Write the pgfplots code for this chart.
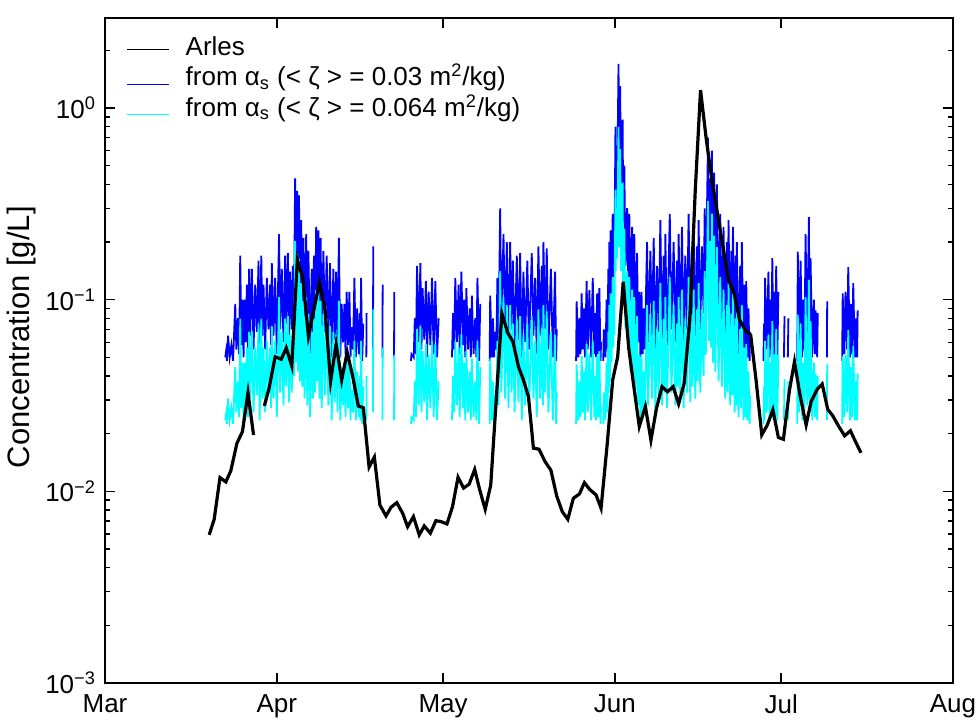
\documentclass[border=0pt]{standalone}
\usepackage{fontspec}
\setmainfont{Liberation Sans}
\usepackage{pgfplots}
\pgfplotsset{compat=1.18}
\usepackage{pgfplotstable}
\definecolor{mblue}{RGB}{0,0,255}
\definecolor{mcyan}{RGB}{0,255,255}

% Arles daily concentration (x = days since 1 March)
\pgfplotstableread[row sep=\\]{
t v\\
18.8 0.00593\\ 19.7 0.00715\\ 20.75 0.0118\\ 21.8 0.0112\\ 22.7 0.0128\\
23.8 0.0178\\ 24.8 0.0205\\ 25.8 0.0327\\ 26.8 0.0197\\
nan nan\\
28.75 0.0279\\ 29.6 0.0345\\ 30.7 0.0504\\ 31.8 0.0489\\ 32.7 0.056\\
33.7 0.0451\\ 34.7 0.162\\ 35.7 0.129\\ 36.7 0.0646\\ 37.7 0.0891\\
38.7 0.123\\ 39.7 0.0891\\ 40.7 0.0374\\ 41.7 0.0587\\ 42.7 0.0381\\
43.7 0.0532\\ 44.7 0.0397\\ 45.7 0.0279\\ 46.6 0.0273\\ 47.65 0.0134\\
48.6 0.0151\\ 49.6 0.00849\\ 50.7 0.00744\\ 51.6 0.00826\\ 52.65 0.00873\\
53.7 0.00769\\ 54.6 0.00654\\ 55.65 0.00738\\ 56.7 0.00593\\ 57.6 0.0066\\
58.7 0.00605\\ 59.7 0.00703\\ 60.65 0.00695\\ 61.7 0.00676\\ 62.7 0.00832\\
63.7 0.01185\\ 64.7 0.0104\\ 65.7 0.0109\\ 66.7 0.0130\\ 67.6 0.0102\\
68.6 0.00806\\ 69.6 0.0108\\ 70.6 0.0305\\ 71.6 0.0849\\ 72.7 0.0668\\
73.6 0.0604\\ 74.6 0.0447\\ 75.5 0.0381\\ 76.4 0.0312\\ 77.3 0.0168\\
78.3 0.0166\\ 79.4 0.0143\\ 80.45 0.0129\\ 81.5 0.00946\\ 82.5 0.00784\\
83.5 0.00715\\ 84.5 0.0092\\ 85.6 0.00969\\ 86.5 0.0111\\ 87.5 0.0102\\
88.6 0.00958\\ 89.5 0.00816\\ 90.6 0.0175\\ 91.6 0.0381\\ 92.5 0.0504\\
93.5 0.124\\ 94.5 0.0558\\ 95.5 0.0338\\ 96.4 0.0218\\ 97.5 0.0277\\
98.5 0.0185\\ 99.5 0.0271\\ 100.5 0.0352\\ 101.5 0.0331\\ 102.5 0.0352\\
103.5 0.0286\\ 104.5 0.0366\\ 105.5 0.0783\\ 106.5 0.373\\ 107.45 1.24\\
108.5 0.681\\ 109.5 0.421\\ 110.5 0.282\\ 111.5 0.189\\ 112.5 0.127\\
113.5 0.108\\ 114.5 0.0783\\ 115.5 0.0695\\ 116.5 0.0654\\ 117.5 0.0374\\
118.5 0.0197\\ 119.5 0.0222\\ 120.5 0.0266\\ 121.5 0.0191\\ 122.4 0.0187\\
123.5 0.0338\\ 124.4 0.0475\\ 125.45 0.0312\\ 126.5 0.0222\\ 127.4 0.0294\\
128.5 0.0341\\ 129.4 0.0363\\ 130.4 0.0268\\ 131.3 0.0248\\ 132.4 0.0218\\
133.45 0.0195\\ 134.5 0.0207\\ 135.4 0.0182\\ 136.4 0.0159\\
}\arles

% retrieved concentrations: b for <zeta>=0.03, c for <zeta>=0.064 m2/kg
\pgfplotstableread[row sep=\\]{
t b c\\
21.7 0.050 0.0235\\ 21.85 0.054 0.0253\\ 22.0 0.048 0.0225\\ 22.2 0.065 0.0305\\
22.5 0.050 0.0235\\ 22.8 0.058 0.0272\\ 23.1 0.048 0.0225\\ 23.5 0.095 0.0446\\
23.7 0.055 0.0258\\ 24.0 0.080 0.0375\\ 24.2 0.052 0.0244\\ 24.4 0.170 0.0797\\
24.6 0.058 0.0272\\ 24.8 0.100 0.0469\\ 25.0 0.050 0.0235\\ 25.2 0.100 0.0469\\
25.4 0.060 0.0281\\ 25.6 0.120 0.0563\\ 25.8 0.052 0.0244\\ 26.0 0.145 0.0680\\
26.2 0.065 0.0305\\ 26.5 0.145 0.0680\\ 26.8 0.055 0.0258\\ 27.1 0.120 0.0563\\
27.4 0.068 0.0319\\ 27.7 0.160 0.0750\\ 27.9 0.050 0.0235\\ 28.2 0.170 0.0797\\
28.4 0.065 0.0305\\ 28.6 0.120 0.0563\\ 28.9 0.055 0.0258\\ 29.2 0.130 0.0610\\
29.5 0.070 0.0328\\ 29.8 0.120 0.0563\\ 29.95 0.058 0.0272\\ 30.1 0.155 0.0727\\
30.4 0.065 0.0305\\ 30.7 0.130 0.0610\\ 31.0 0.052 0.0244\\ 31.4 0.220 0.1030\\
31.6 0.070 0.0328\\ 31.9 0.145 0.0680\\ 32.2 0.060 0.0281\\ 32.5 0.170 0.0797\\
32.7 0.075 0.0352\\ 33.0 0.175 0.0821\\ 33.2 0.062 0.0291\\ 33.4 0.140 0.0657\\
33.7 0.070 0.0328\\ 33.9 0.150 0.0704\\ 34.1 0.085 0.0399\\ 34.3 0.430 0.2020\\
34.5 0.100 0.0469\\ 34.7 0.370 0.1740\\ 34.85 0.090 0.0422\\ 35.0 0.350 0.1640\\
35.2 0.080 0.0375\\ 35.4 0.260 0.1220\\ 35.6 0.075 0.0352\\ 35.8 0.210 0.0985\\
36.0 0.065 0.0305\\ 36.3 0.220 0.1030\\ 36.5 0.060 0.0281\\ 36.7 0.180 0.0844\\
37.0 0.052 0.0244\\ 37.3 0.145 0.0680\\ 37.5 0.065 0.0305\\ 37.7 0.170 0.0797\\
37.9 0.070 0.0328\\ 38.1 0.240 0.1130\\ 38.3 0.080 0.0375\\ 38.5 0.230 0.1080\\
38.7 0.065 0.0305\\ 38.9 0.210 0.0985\\ 39.1 0.058 0.0272\\ 39.4 0.180 0.0844\\
39.7 0.068 0.0319\\ 40.0 0.170 0.0797\\ 40.3 0.060 0.0281\\ 40.6 0.155 0.0727\\
40.9 0.050 0.0235\\ 41.2 0.145 0.0680\\ 41.45 0.062 0.0291\\ 41.7 0.140 0.0657\\
41.95 0.055 0.0258\\ 42.2 0.210 0.0985\\ 42.45 0.050 0.0235\\ 42.7 0.095 0.0446\\
42.95 0.060 0.0281\\ 43.2 0.095 0.0446\\ 43.4 0.052 0.0244\\ 43.6 0.110 0.0516\\
43.85 0.058 0.0272\\ 44.1 0.110 0.0516\\ 44.3 0.050 0.0235\\ 44.5 0.072 0.0338\\
44.75 0.055 0.0258\\ 45.0 0.130 0.0610\\ 45.25 0.050 0.0235\\ 45.5 0.090 0.0422\\
45.8 0.052 0.0244\\ 46.0 0.085 0.0399\\ 46.1 0.050 0.0235\\ 46.2 0.130 0.0610\\
46.4 0.048 0.0225\\ 46.6 0.075 0.0352\\
nan nan nan\\
47.15 0.050 0.0235\\ 47.2 0.085 0.0399\\ nan nan nan\\
48.35 0.055 0.0258\\ 48.4 0.190 0.0891\\ nan nan nan\\
50.05 0.050 0.0235\\ 50.1 0.120 0.0563\\ nan nan nan\\
52.15 0.050 0.0235\\ 52.2 0.110 0.0516\\ nan nan nan\\
55.2 0.048 0.0225\\ 55.3 0.052 0.0244\\ 55.7 0.050 0.0235\\ 55.9 0.080 0.0375\\
56.1 0.052 0.0244\\ 56.3 0.150 0.0704\\ 56.6 0.060 0.0281\\ 56.9 0.155 0.0727\\
57.1 0.055 0.0258\\ 57.3 0.115 0.0539\\ 57.6 0.062 0.0291\\ 57.9 0.125 0.0586\\
58.1 0.050 0.0235\\ 58.4 0.110 0.0516\\ 58.7 0.058 0.0272\\ 59.0 0.130 0.0610\\
59.3 0.052 0.0244\\ 59.6 0.125 0.0586\\ 59.9 0.050 0.0235\\ 60.2 0.080 0.0375\\
nan nan nan\\
62.6 0.050 0.0235\\ 62.8 0.085 0.0399\\ 63.0 0.055 0.0258\\ 63.2 0.130 0.0610\\
63.5 0.060 0.0281\\ 63.8 0.120 0.0563\\ 64.0 0.052 0.0244\\ 64.3 0.140 0.0657\\
64.6 0.058 0.0272\\ 64.8 0.100 0.0469\\ 65.0 0.050 0.0235\\ 65.2 0.115 0.0539\\
65.5 0.055 0.0258\\ 65.8 0.090 0.0422\\ 66.0 0.050 0.0235\\ 66.2 0.105 0.0492\\
66.5 0.052 0.0244\\ 66.8 0.080 0.0375\\ 67.0 0.050 0.0235\\ 67.2 0.130 0.0610\\
67.5 0.048 0.0225\\ 67.7 0.095 0.0446\\
nan nan nan\\
69.4 0.048 0.0225\\ 69.5 0.105 0.0492\\ 69.8 0.050 0.0235\\ 70.0 0.080 0.0375\\
70.2 0.050 0.0235\\ 70.3 0.068 0.0319\\ 70.6 0.055 0.0258\\ 70.8 0.130 0.0610\\
71.0 0.060 0.0281\\ 71.3 0.300 0.1410\\ 71.5 0.070 0.0328\\ 71.9 0.220 0.1030\\
72.2 0.065 0.0305\\ 72.5 0.200 0.0938\\ 72.8 0.058 0.0272\\ 73.1 0.200 0.0938\\
73.35 0.070 0.0328\\ 73.6 0.160 0.0750\\ 73.9 0.055 0.0258\\ 74.3 0.170 0.0797\\
74.6 0.062 0.0291\\ 74.9 0.175 0.0821\\ 75.2 0.050 0.0235\\ 75.5 0.140 0.0657\\
75.8 0.060 0.0281\\ 76.2 0.160 0.0750\\ 76.5 0.055 0.0258\\ 77.0 0.175 0.0821\\
77.3 0.065 0.0305\\ 77.6 0.130 0.0610\\ 77.9 0.052 0.0244\\ 78.2 0.190 0.0891\\
78.5 0.065 0.0305\\ 78.8 0.150 0.0704\\ 79.0 0.060 0.0281\\ 79.1 0.200 0.0938\\
79.4 0.070 0.0328\\ 79.7 0.185 0.0868\\ 80.0 0.055 0.0258\\ 80.45 0.145 0.0680\\
80.8 0.050 0.0235\\ 81.2 0.140 0.0657\\ 81.4 0.048 0.0225\\ 81.5 0.070 0.0328\\
nan nan nan\\
85.0 0.048 0.0225\\ 85.1 0.098 0.0460\\ 85.4 0.050 0.0235\\ 85.6 0.080 0.0375\\
85.8 0.052 0.0244\\ 86.0 0.108 0.0507\\ 86.2 0.055 0.0258\\ 86.4 0.090 0.0422\\
86.6 0.050 0.0235\\ 86.9 0.125 0.0586\\ 87.1 0.055 0.0258\\ 87.4 0.112 0.0525\\
87.7 0.050 0.0235\\ 88.0 0.130 0.0610\\ 88.3 0.052 0.0244\\ 88.5 0.085 0.0399\\
88.6 0.050 0.0235\\ 88.8 0.108 0.0507\\ 89.0 0.052 0.0244\\ 89.2 0.115 0.0539\\
89.4 0.048 0.0225\\ 89.5 0.060 0.0281\\
nan nan nan\\
89.9 0.048 0.0225\\ 90.0 0.070 0.0328\\ 90.3 0.050 0.0235\\ 90.5 0.100 0.0469\\
90.7 0.055 0.0258\\ 90.8 0.145 0.0680\\ 90.9 0.070 0.0328\\ 91.0 0.200 0.0938\\
91.1 0.080 0.0375\\ 91.2 0.230 0.1080\\ 91.4 0.100 0.0469\\ 91.6 0.280 0.1310\\
91.7 0.120 0.0563\\ 91.75 0.175 0.0821\\ 91.9 0.140 0.0657\\ 92.1 0.800 0.3750\\
92.15 0.300 0.1410\\ 92.2 0.500 0.2350\\ 92.4 0.350 0.1640\\ 92.65 1.700 0.7970\\
92.8 0.400 0.1880\\ 92.95 1.300 0.6100\\ 93.1 0.300 0.1410\\ 93.4 0.870 0.4080\\
93.5 0.200 0.0938\\ 93.7 0.500 0.2350\\ 93.9 0.150 0.0704\\ 94.2 0.300 0.1410\\
94.4 0.120 0.0563\\ 94.6 0.280 0.1310\\ 94.8 0.090 0.0422\\ 95.1 0.240 0.1130\\
95.3 0.080 0.0375\\ 95.5 0.220 0.1030\\ 95.7 0.065 0.0305\\ 96.0 0.175 0.0821\\
96.2 0.060 0.0281\\ 96.4 0.110 0.0516\\ 96.6 0.050 0.0235\\ 96.8 0.110 0.0516\\
97.0 0.052 0.0244\\ 97.2 0.090 0.0422\\ 97.4 0.055 0.0258\\ 97.8 0.200 0.0938\\
98.0 0.060 0.0281\\ 98.4 0.180 0.0844\\ 98.7 0.065 0.0305\\ 99.0 0.210 0.0985\\
99.3 0.055 0.0258\\ 99.6 0.150 0.0704\\ 99.9 0.068 0.0319\\ 100.2 0.260 0.1220\\
100.5 0.060 0.0281\\ 100.8 0.170 0.0797\\ 100.95 0.070 0.0328\\ 101.1 0.220 0.1030\\
101.4 0.058 0.0272\\ 101.9 0.280 0.1310\\ 102.2 0.070 0.0328\\ 102.6 0.200 0.0938\\
102.9 0.060 0.0281\\ 103.2 0.160 0.0750\\ 103.35 0.075 0.0352\\ 103.5 0.220 0.1030\\
103.8 0.065 0.0305\\ 104.1 0.240 0.1130\\ 104.4 0.058 0.0272\\ 104.7 0.170 0.0797\\
105.0 0.070 0.0328\\ 105.3 0.280 0.1310\\ 105.6 0.062 0.0291\\ 105.9 0.180 0.0844\\
106.0 0.075 0.0352\\ 106.2 0.240 0.1130\\ 106.5 0.065 0.0305\\ 106.8 0.190 0.0891\\
106.95 0.080 0.0375\\ 107.1 0.260 0.1220\\ 107.4 0.070 0.0328\\ 107.7 0.190 0.0891\\
108.0 0.085 0.0399\\ 108.2 0.300 0.1410\\ 108.4 0.110 0.0516\\ 108.8 0.700 0.3280\\
109.0 0.130 0.0610\\ 109.2 0.430 0.2020\\ 109.35 0.120 0.0563\\ 109.5 0.600 0.2810\\
109.7 0.100 0.0469\\ 109.9 0.460 0.2160\\ 110.1 0.090 0.0422\\ 110.4 0.400 0.1880\\
110.7 0.080 0.0375\\ 111.0 0.280 0.1310\\ 111.3 0.075 0.0352\\ 111.6 0.240 0.1130\\
111.9 0.065 0.0305\\ 112.2 0.200 0.0938\\ 112.35 0.070 0.0328\\ 112.5 0.260 0.1220\\
112.8 0.060 0.0281\\ 113.0 0.180 0.0844\\ 113.15 0.068 0.0319\\ 113.3 0.240 0.1130\\
113.6 0.055 0.0258\\ 113.8 0.170 0.0797\\ 113.9 0.060 0.0281\\ 114.0 0.200 0.0938\\
114.3 0.052 0.0244\\ 114.6 0.150 0.0704\\ 114.75 0.058 0.0272\\ 114.9 0.200 0.0938\\
115.2 0.050 0.0235\\ 115.4 0.120 0.0563\\ 115.55 0.052 0.0244\\ 115.7 0.125 0.0586\\
115.9 0.050 0.0235\\ 116.1 0.090 0.0422\\ 116.3 0.048 0.0225\\ 116.4 0.068 0.0319\\
nan nan nan\\
118.8 0.048 0.0225\\ 118.9 0.075 0.0352\\ 119.0 0.050 0.0235\\ 119.1 0.130 0.0610\\
119.4 0.055 0.0258\\ 119.7 0.140 0.0657\\ 119.9 0.050 0.0235\\ 120.1 0.100 0.0469\\
120.2 0.055 0.0258\\ 120.4 0.165 0.0774\\ 120.6 0.050 0.0235\\ 120.8 0.110 0.0516\\
120.9 0.052 0.0244\\ 121.1 0.150 0.0704\\ 121.3 0.050 0.0235\\ 121.5 0.110 0.0516\\
nan nan nan\\
122.5 0.050 0.0235\\ 122.6 0.082 0.0385\\ nan nan nan\\
123.2 0.050 0.0235\\ 123.3 0.080 0.0375\\ nan nan nan\\
124.9 0.048 0.0225\\ 125.0 0.178 0.0835\\ 125.2 0.055 0.0258\\ 125.5 0.160 0.0750\\
125.8 0.050 0.0235\\ 126.0 0.100 0.0469\\ 126.2 0.055 0.0258\\ 126.4 0.220 0.1030\\
126.7 0.060 0.0281\\ 127.0 0.270 0.1270\\ 127.15 0.055 0.0258\\ 127.3 0.165 0.0774\\
127.6 0.050 0.0235\\ 127.9 0.100 0.0469\\ 128.1 0.052 0.0244\\ 128.2 0.088 0.0413\\
128.5 0.050 0.0235\\ 128.6 0.085 0.0399\\
nan nan nan\\
130.25 0.050 0.0235\\ 130.3 0.098 0.0460\\ nan nan nan\\
133.0 0.048 0.0225\\ 133.1 0.108 0.0507\\ 133.4 0.052 0.0244\\ 133.6 0.110 0.0516\\
133.9 0.055 0.0258\\ 134.1 0.148 0.0694\\ 134.4 0.050 0.0235\\ 134.6 0.095 0.0446\\
134.8 0.052 0.0244\\ 135.0 0.122 0.0572\\ 135.3 0.050 0.0235\\ 135.5 0.080 0.0375\\
135.7 0.050 0.0235\\ 135.8 0.088 0.0413\\
}\spikes

\begin{document}
\begin{tikzpicture}
\useasboundingbox (-52.5pt,-18.5pt) rectangle (435.5pt,341.5pt);
\begin{axis}[
  at={(0pt,0pt)}, anchor=south west,
  scale only axis, width=424pt, height=332.5pt,
  ymode=log,
  xmin=0, xmax=153, ymin=1e-3, ymax=2.95,
  xtick={0,31,61,92,122,153},
  xticklabels={Mar,Apr,May,Jun,Jul,Aug},
  ytick={0.001,0.01,0.1,1},
  yticklabels={10\textsuperscript{−3},10\textsuperscript{−2},10\textsuperscript{−1},10\textsuperscript{0}},
  minor ytick={0.002,0.003,0.004,0.005,0.006,0.007,0.008,0.009,
               0.02,0.03,0.04,0.05,0.06,0.07,0.08,0.09,
               0.2,0.3,0.4,0.5,0.6,0.7,0.8,0.9,2},
  tick pos=both, tick align=inside,
  major tick length=5pt, minor tick length=2.5pt,
  every tick/.style={black, line width=0.7pt},
  axis line style={line width=1.2pt},
  unbounded coords=jump,
  ylabel={Concentration [g/L]},
  ylabel style={font=\fontsize{15.5}{18}\selectfont, at={(axis description cs:-0.098,0.52)}, anchor=center},
  tick label style={font=\fontsize{13}{15}\selectfont},
  xticklabel style={yshift=-2.5pt},
  yticklabel style={xshift=-1pt},
  legend style={at={(axis description cs:0.018,0.985)}, anchor=north west, draw=none, fill=none,
    font=\fontsize{13}{15}\selectfont, row sep=-1pt},
  legend cell align=left,
  legend image code/.code={\draw[#1] (0pt,0pt) -- (21pt,0pt); \path (27pt,0pt);},
]
\addlegendimage{black, line width=0.5pt, yshift=-1pt}
\addlegendentry{Arles}
\addlegendimage{mblue, line width=0.5pt, yshift=-4pt}
\addlegendentry{from α\textsubscript{s} (< ζ > = 0.03 m\textsuperscript{2}/kg)}
\addlegendimage{mcyan, line width=0.5pt, yshift=-4pt}
\addlegendentry{from α\textsubscript{s} (< ζ > = 0.064 m\textsuperscript{2}/kg)}

\addplot[mblue, line width=0.9pt, forget plot] table[x=t, y=b] {\spikes};
\addplot[mcyan, line width=0.9pt, forget plot] table[x=t, y=c] {\spikes};
\addplot[black, line width=1.6pt, forget plot] table[x=t, y=v] {\arles};
\end{axis}
\end{tikzpicture}
\end{document}
